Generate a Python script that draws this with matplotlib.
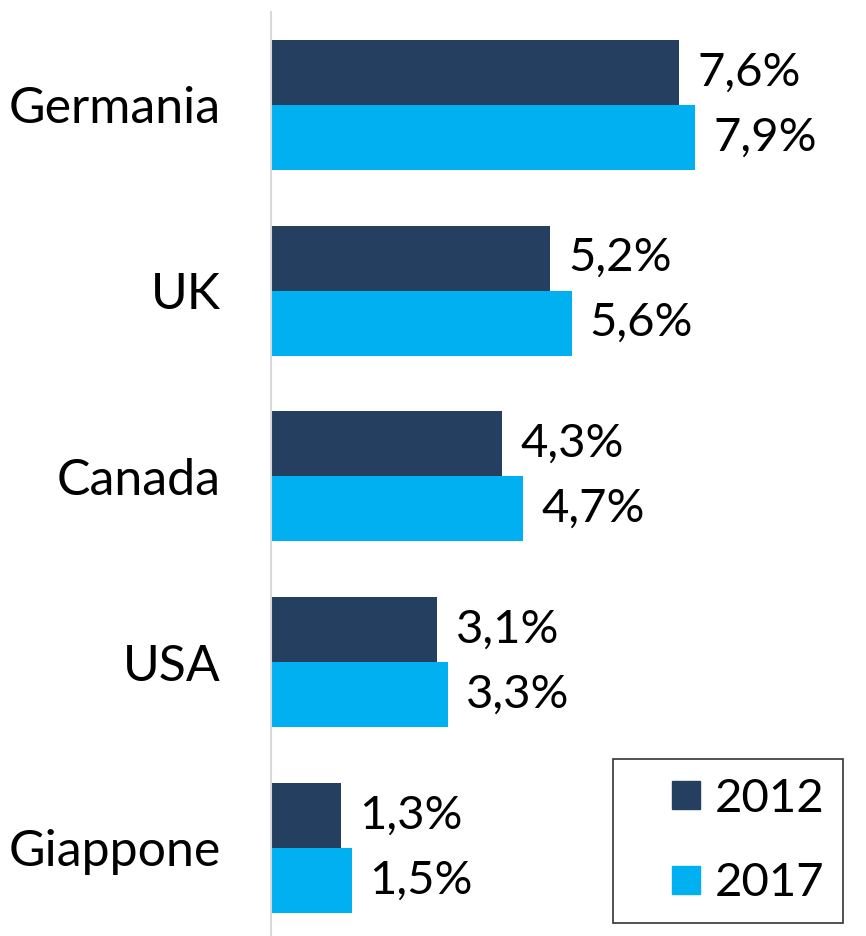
import numpy as np
import matplotlib
matplotlib.use('Agg')
import matplotlib.pyplot as plt
from matplotlib.lines import Line2D

# Dati
paesi = ['Germania', 'UK', 'Canada', 'USA', 'Giappone']
valori_2012 = [7.6, 5.2, 4.3, 3.1, 1.3]
valori_2017 = [7.9, 5.6, 4.7, 3.3, 1.5]
anni = ['2012', '2017']

col_2012 = '#253F60'
col_2017 = '#00B0F0'

plt.rcParams['font.family'] = ['Lato', 'DejaVu Sans']

fig = plt.figure(figsize=(8.66, 9.36), dpi=100)
ax = fig.add_axes([271 / 866, 0, 1 - 271 / 866, 1 - 12 / 936])

y = np.arange(len(paesi))
h = 0.35
b1 = ax.barh(y - h / 2, valori_2012, height=h, color=col_2012)
b2 = ax.barh(y + h / 2, valori_2017, height=h, color=col_2017)

fs = 36
for barre, valori in ((b1, valori_2012), (b2, valori_2017)):
    for b, v in zip(barre, valori):
        ax.annotate(f'{v:.1f}%'.replace('.', ','),
                    (b.get_width(), b.get_y() + b.get_height() / 2),
                    xytext=(13, 0), textcoords='offset points',
                    ha='left', va='center', fontsize=34)

ax.set_xlim(0, (866 - 271) / 53.7)
ax.set_ylim((936 - 105) / 185.75, -0.5)
ax.set_yticks(y)
ax.set_yticklabels(paesi, fontsize=fs)
ax.tick_params(axis='y', length=0, pad=36)
ax.set_xticks([])
for s in ['top', 'right', 'bottom']:
    ax.spines[s].set_visible(False)
ax.spines['left'].set_color('#D9D9D9')
ax.spines['left'].set_linewidth(1.5)

# Legenda con quadratini
maniglie = [Line2D([], [], ls='none', marker='s', markersize=20,
                   markerfacecolor=c, markeredgecolor=c)
            for c in (col_2012, col_2017)]
leg = ax.legend(maniglie, anni, loc='lower left',
                bbox_to_anchor=(613 / 866, 13 / 936),
                bbox_transform=fig.transFigure, fontsize=34, frameon=True,
                fancybox=False, borderaxespad=0, borderpad=0.4,
                handlelength=2.3, handletextpad=-0.55, labelspacing=0.9)
leg.get_frame().set_edgecolor('black')
leg.get_frame().set_linewidth(1.2)

fig.savefig('out.png', dpi=100)
